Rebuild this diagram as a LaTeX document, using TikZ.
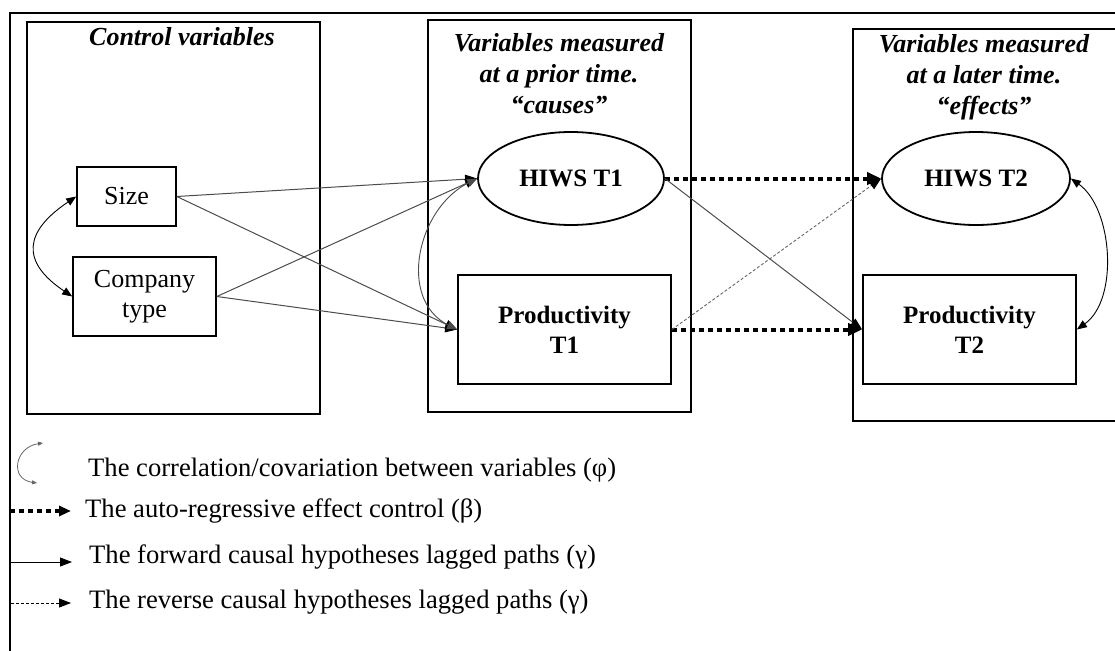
\documentclass[tikz,border=0pt]{standalone}
\usepackage{fontspec}
\setmainfont{Liberation Serif}
\usetikzlibrary{shapes.geometric, arrows.meta}

\begin{document}
\begin{tikzpicture}[x=1pt, y=-1pt,
    frame/.style={line width=2pt},
    latent/.style={draw, ellipse, line width=1.8pt, inner sep=0pt, font=\fontsize{25}{30}\selectfont\bfseries},
    observed/.style={draw, line width=1.8pt, inner sep=0pt, align=center, font=\fontsize{25}{30}\selectfont\bfseries},
    control/.style={draw, line width=1.6pt, inner sep=0pt, align=center, font=\fontsize{26}{30}\selectfont},
    boxtitle/.style={align=center, inner sep=0pt, font=\fontsize{26}{31}\selectfont\bfseries\itshape},
    legendtext/.style={anchor=west, inner sep=0pt, font=\fontsize{26.6}{30}\selectfont},
    lagged/.style={draw=black!70, line width=1pt, -{Triangle[length=12pt,width=9pt,color=black]}},
    reverse/.style={draw=black!60, line width=0.9pt, dash pattern=on 3pt off 2pt, -{Triangle[length=12pt,width=9pt,color=black]}},
    autoreg/.style={line width=4pt, dash pattern=on 5pt off 4pt, -{Triangle[length=14pt,width=12pt]}},
    corr/.style={line width=0.9pt, {Triangle[length=10pt,width=8pt]}-{Triangle[length=10pt,width=8pt]}}]
    \useasboundingbox (0,0) rectangle (1115,650);
    \draw[frame] (1116,13) -- (10,13) -- (10,651);
    \draw[frame] (27,22) rectangle (320,414);
    \draw[frame] (428,20) rectangle (691,412);
    \draw[frame] (1116,29) -- (853,29) -- (853,421) -- (1116,421);
    \node(t0)[boxtitle] at (182,37) {Control variables};
    \node(t1)[boxtitle] at (559,74) {Variables measured\\at a prior time.\\“causes”};
    \node(t2)[boxtitle] at (984,77) {Variables measured\\at a later time.\\“effects”};
    \node(size)[control, minimum width=99pt, minimum height=59pt] at (126.5,196.5) {Size};
    \node(comp)[control, minimum width=143pt, minimum height=79pt] at (144.5,296.5) {Company\\type};
    \node(h1)[latent, minimum width=186pt, minimum height=93pt] at (571,178.5) {HIWS T1};
    \node(p1)[observed, minimum width=213pt, minimum height=109pt] at (564.5,329.5) {Productivity\\T1};
    \node(h2)[latent, minimum width=188pt, minimum height=93pt] at (976,178.5) {HIWS T2};
    \node(p2)[observed, minimum width=213pt, minimum height=109pt] at (969.5,329.5) {Productivity\\T2};
    \draw[lagged] (size.east) -- (h1.west);
    \draw[lagged] (size.east) -- (p1.west);
    \draw[lagged] (comp.east) -- (h1.west);
    \draw[lagged] (comp.east) -- (p1.west);
    \draw[corr] (size.west) .. controls +(-52,35) and +(-52,-35) .. (comp.west);
    \draw[corr, draw=black!70] (h1.west) .. controls +(-60,30) and +(-60,-30) .. (p1.west);
    \draw[corr] (h2.east) .. controls +(42,30) and +(42,-30) .. (p2.east);
    \draw[autoreg] (h1.east) -- (h2.west);
    \draw[autoreg] (p1.east) -- (p2.west);
    \draw[lagged] (h1.east) -- (p2.west);
    \draw[reverse] (p1.east) -- (h2.west);
    \node(leg1)[legendtext] at (88,470) {The correlation/covariation between variables (φ)};
    \node(leg2)[legendtext] at (85,511) {The auto-regressive effect control (β)};
    \node(leg3)[legendtext] at (89,557) {The forward causal hypotheses lagged paths (γ)};
    \node(leg4)[legendtext] at (89,602) {The reverse causal hypotheses lagged paths (γ)};
    \coordinate(c1a) at (43,443);
    \coordinate(c1b) at (37,483);
    \coordinate(c2a) at (10,511);
    \coordinate(c2b) at (71,511);
    \coordinate(c3a) at (10,562);
    \coordinate(c3b) at (72,562);
    \coordinate(c4a) at (11,603);
    \coordinate(c4b) at (71,603);
    \draw[draw=black!60, line width=0.8pt, {Triangle[length=5pt,width=4pt]}-{Triangle[length=5pt,width=4pt]}] (c1a) .. controls +(-28,4) and +(-28,-4) .. (c1b);
    \draw[autoreg, -{Triangle[length=12pt,width=10pt]}] (c2a) -- (c2b);
    \draw[line width=1pt, -{Triangle[length=12pt,width=9pt]}] (c3a) -- (c3b);
    \draw[line width=0.8pt, dash pattern=on 3pt off 2pt, -{Triangle[length=12pt,width=9pt]}] (c4a) -- (c4b);
    \end{tikzpicture}
\end{document}
